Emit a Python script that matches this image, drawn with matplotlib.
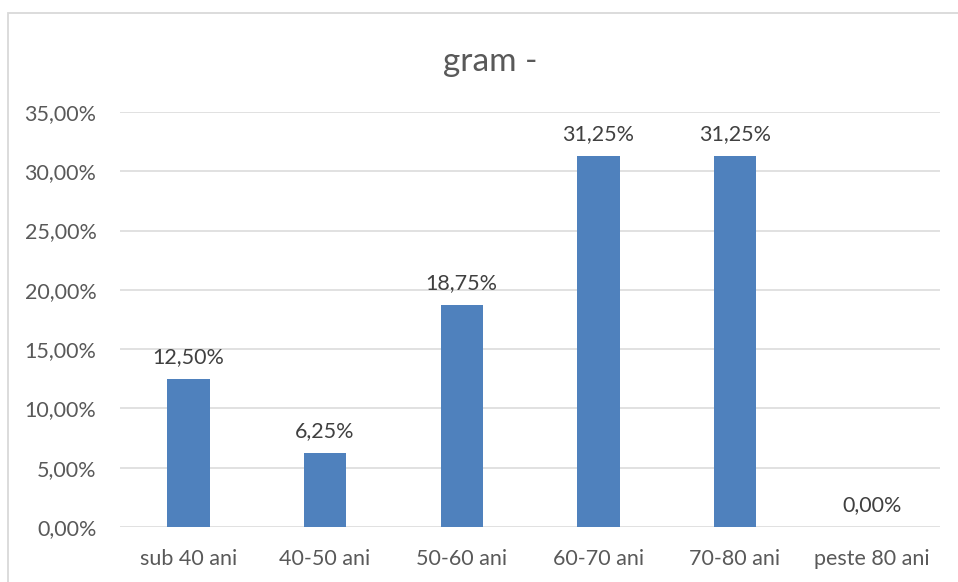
import matplotlib
matplotlib.use("Agg")
import matplotlib.pyplot as plt
from matplotlib.patches import Rectangle

categories = ["sub 40 ani", "40-50 ani", "50-60 ani", "60-70 ani", "70-80 ani", "peste 80 ani"]
shares = [12.50, 6.25, 18.75, 31.25, 31.25, 0.00]
y_ticks = [0, 5, 10, 15, 20, 25, 30, 35]

plt.rcParams["font.family"] = ["Lato", "DejaVu Sans"]
TEXT = "#595959"
BAR = "#4F81BD"
GRID = "#D9D9D9"
FS = 15.5


def pct(v):
    return f"{v:.2f}%".replace(".", ",")


fig = plt.figure(figsize=(9.58, 5.82), dpi=100)
ax = fig.add_axes([0.1253, 0.0945, 0.8559, 0.7131])

# outer chart frame (runs past the right/bottom edge)
top = 1 - 13 / 582
fig.patches.append(Rectangle((8 / 958, -0.2), 1.2, top + 0.2,
                             transform=fig.transFigure, fill=False,
                             edgecolor=GRID, lw=1.3))

x = range(len(categories))
ax.bar(x, shares, width=0.31, color=BAR, zorder=3)
for xi, v in zip(x, shares):
    ax.text(xi, v + 1.0, pct(v), ha="center", va="bottom", fontsize=FS, color="#404040")

ax.set_xlim(-0.5, len(categories) - 0.5)
ax.set_ylim(0, 35)
ax.set_yticks(y_ticks)
ax.set_yticklabels([pct(t) for t in y_ticks])
ax.set_xticks(list(x))
ax.set_xticklabels(categories)
ax.tick_params(axis="both", length=0, labelsize=FS, labelcolor=TEXT)
ax.tick_params(axis="y", pad=17)
ax.tick_params(axis="x", pad=16)
ax.grid(axis="y", color=GRID, lw=1.1, zorder=0)
for s in ax.spines.values():
    s.set_visible(False)

fig.text(0.512, 0.893, "gram -", ha="center", va="center", fontsize=24, color=TEXT)

fig.savefig("out.png", dpi=100)
